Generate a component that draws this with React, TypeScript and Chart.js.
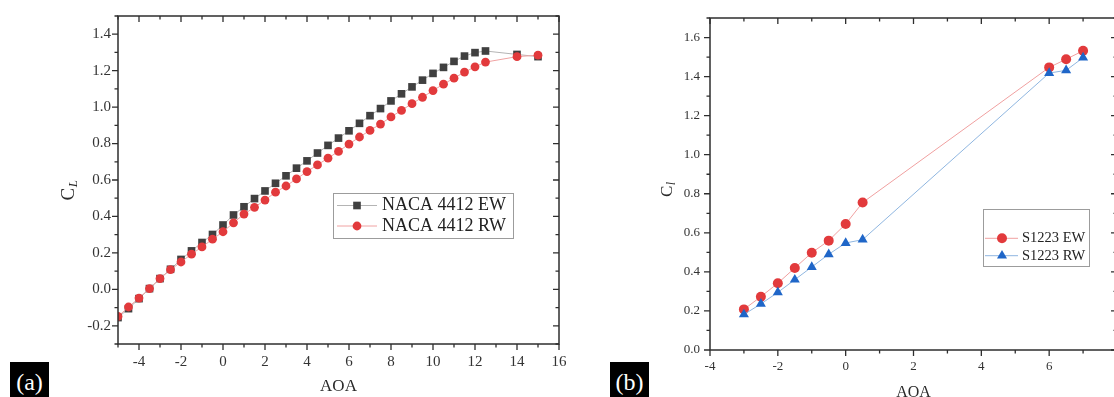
import React, { useEffect, useRef } from 'react';
import { Chart, registerables } from 'chart.js';

Chart.register(...registerables);

// ---------- data (a) NACA 4412 ----------
const NACA_AOA = [
  -5, -4.5, -4, -3.5, -3, -2.5, -2, -1.5, -1, -0.5,
  0, 0.5, 1, 1.5, 2, 2.5, 3, 3.5, 4, 4.5,
  5, 5.5, 6, 6.5, 7, 7.5, 8, 8.5, 9, 9.5,
  10, 10.5, 11, 11.5, 12, 12.5, 14, 15,
];
const NACA_EW = [
  -0.155, -0.106, -0.051, 0.004, 0.059, 0.11, 0.164, 0.211, 0.257, 0.301,
  0.353, 0.408, 0.453, 0.498, 0.54, 0.582, 0.623, 0.665, 0.705, 0.748,
  0.79, 0.83, 0.87, 0.911, 0.953, 0.992, 1.034, 1.073, 1.111, 1.148,
  1.185, 1.218, 1.251, 1.28, 1.299, 1.308, 1.289, 1.277,
];
const NACA_RW = [
  -0.149, -0.097, -0.048, 0.004, 0.059, 0.108, 0.15, 0.193, 0.233, 0.275,
  0.316, 0.365, 0.413, 0.45, 0.49, 0.533, 0.567, 0.606, 0.646, 0.683,
  0.72, 0.757, 0.797, 0.836, 0.872, 0.907, 0.946, 0.982, 1.019, 1.054,
  1.091, 1.126, 1.159, 1.192, 1.221, 1.247, 1.277, 1.285,
];
const NACA_X_TICKS = [-4, -2, 0, 2, 4, 6, 8, 10, 12, 14, 16];
const NACA_Y_TICKS = [-0.2, 0, 0.2, 0.4, 0.6, 0.8, 1.0, 1.2, 1.4];
const NACA_LABELS = ['NACA 4412 EW', 'NACA 4412 RW'];

// ---------- data (b) S1223 ----------
const S1223_AOA = [-3, -2.5, -2, -1.5, -1, -0.5, 0, 0.5, 6, 6.5, 7];
const S1223_EW = [0.208, 0.273, 0.342, 0.42, 0.498, 0.56, 0.645, 0.755, 1.447, 1.489, 1.532];
const S1223_RW = [0.182, 0.236, 0.295, 0.36, 0.425, 0.49, 0.548, 0.565, 1.418, 1.432, 1.497];
const S1223_X_TICKS = [-4, -2, 0, 2, 4, 6, 8];
const S1223_Y_TICKS = [0, 0.2, 0.4, 0.6, 0.8, 1.0, 1.2, 1.4, 1.6];
const S1223_LABELS = ['S1223 EW', 'S1223 RW'];

const SERIF = '"Liberation Serif", "Times New Roman", Times, serif';

function drawMarker(ctx: CanvasRenderingContext2D, style: string, x: number, y: number, r: number, color: string) {
  ctx.fillStyle = color;
  ctx.beginPath();
  if (style === 'rect') {
    const s = Math.SQRT1_2 * r;
    ctx.rect(x - s, y - s, 2 * s, 2 * s);
  } else if (style === 'triangle') {
    let rad = 0;
    ctx.moveTo(x + Math.sin(rad) * r, y - Math.cos(rad) * r);
    rad += (2 * Math.PI) / 3;
    ctx.lineTo(x + Math.sin(rad) * r, y - Math.cos(rad) * r);
    rad += (2 * Math.PI) / 3;
    ctx.lineTo(x + Math.sin(rad) * r, y - Math.cos(rad) * r);
    ctx.closePath();
  } else {
    ctx.arc(x, y, r, 0, Math.PI * 2);
  }
  ctx.fill();
}

function framePlugin(cfg: any) {
  return {
    id: 'frameTicks',
    afterDatasetsDraw(chart: any) {
      const { ctx, chartArea: a, scales } = chart;
      const xs = scales.x;
      const ys = scales.y;
      ctx.save();
      ctx.strokeStyle = '#2e2e2e';
      ctx.lineWidth = 1.5;
      ctx.strokeRect(a.left, a.top, a.right - a.left, a.bottom - a.top);
      ctx.lineWidth = 1.3;
      ctx.beginPath();
      const seg = (x1: number, y1: number, x2: number, y2: number) => {
        ctx.moveTo(x1, y1);
        ctx.lineTo(x2, y2);
      };
      const MAJ = 6;
      const MIN = 3.5;
      const xMajor = xs.ticks.map((t: any) => t.value);
      const yMajor = ys.ticks.map((t: any) => t.value);
      const isMajor = (arr: number[], v: number) => arr.some((m) => Math.abs(m - v) < 1e-6);
      for (let v = xs.min; v <= xs.max + 1e-9; v += cfg.xMinorStep) {
        const px = xs.getPixelForValue(v);
        const len = isMajor(xMajor, v) ? MAJ : MIN;
        seg(px, a.bottom, px, a.bottom + len);
        seg(px, a.top, px, a.top + len);
      }
      for (let v = ys.min; v <= ys.max + 1e-9; v += cfg.yMinorStep) {
        const py = ys.getPixelForValue(v);
        const len = isMajor(yMajor, v) ? MAJ : MIN;
        seg(a.left, py, a.left - len, py);
        seg(a.right, py, a.right - len, py);
      }
      ctx.stroke();

      // y title with subscript
      const t = cfg.yTitle;
      ctx.save();
      ctx.translate(t.x, t.y);
      ctx.rotate(-Math.PI / 2);
      ctx.fillStyle = '#2a2a2a';
      ctx.textAlign = 'left';
      ctx.textBaseline = 'alphabetic';
      ctx.font = `${t.mainSize}px ${SERIF}`;
      ctx.fillText(t.main, 0, 0);
      const w = ctx.measureText(t.main).width;
      ctx.font = `italic ${t.subSize}px ${SERIF}`;
      ctx.fillText(t.sub, w + 0.5, t.subShift);
      ctx.restore();

      // legend
      const L = cfg.legend;
      ctx.fillStyle = '#ffffff';
      ctx.fillRect(L.box[0], L.box[1], L.box[2] - L.box[0], L.box[3] - L.box[1]);
      ctx.strokeStyle = '#9c9c9c';
      ctx.lineWidth = 1;
      ctx.strokeRect(L.box[0] + 0.5, L.box[1] + 0.5, L.box[2] - L.box[0], L.box[3] - L.box[1]);
      chart.data.datasets.forEach((ds: any, i: number) => {
        const ry = L.rows[i];
        ctx.strokeStyle = ds.borderColor;
        ctx.lineWidth = 1;
        ctx.beginPath();
        ctx.moveTo(L.lineX[0], ry);
        ctx.lineTo(L.lineX[1], ry);
        ctx.stroke();
        drawMarker(ctx, ds.pointStyle, L.markerX, ry, ds.pointRadius, ds.pointBackgroundColor);
        ctx.fillStyle = '#222';
        ctx.font = `${L.fontSize}px ${SERIF}`;
        ctx.textAlign = 'left';
        ctx.textBaseline = 'middle';
        ctx.fillText(ds.label, L.textX, ry);
      });
      ctx.restore();
    },
  };
}

function makeConfig(p: any) {
  return {
    type: 'line',
    data: {
      datasets: p.datasets,
    },
    options: {
      animation: false,
      responsive: false,
      events: [],
      layout: { padding: p.padding },
      plugins: { legend: { display: false }, tooltip: { enabled: false } },
      scales: {
        x: {
          type: 'linear',
          min: p.xMin,
          max: p.xMax,
          grid: { display: false, drawTicks: false, tickLength: 0 },
          border: { display: false },
          afterBuildTicks: (s: any) => {
            s.ticks = p.xTicks.map((v: number) => ({ value: v }));
          },
          afterFit: (s: any) => {
            s.height = p.xAxisHeight;
            s.paddingLeft = 0;
            s.paddingRight = 0;
          },
          ticks: {
            autoSkip: false,
            maxRotation: 0,
            padding: p.xTickPad,
            color: '#333',
            font: { family: SERIF, size: p.tickSize },
            callback: (v: number) => String(v),
          },
          title: {
            display: true,
            text: 'AOA',
            color: '#2a2a2a',
            font: { family: SERIF, size: p.xTitleSize },
            padding: { top: 0, bottom: p.xTitlePad },
          },
        },
        y: {
          type: 'linear',
          min: p.yMin,
          max: p.yMax,
          grid: { display: false, drawTicks: false, tickLength: 0 },
          border: { display: false },
          afterBuildTicks: (s: any) => {
            s.ticks = p.yTicks.map((v: number) => ({ value: v }));
          },
          afterFit: (s: any) => {
            s.width = p.yAxisWidth;
            s.paddingTop = 0;
            s.paddingBottom = 0;
          },
          ticks: {
            autoSkip: false,
            padding: p.yTickPad,
            color: '#333',
            font: { family: SERIF, size: p.tickSize },
            callback: (v: number) => Number(v).toFixed(1),
          },
        },
      },
    },
    plugins: [framePlugin(p.frame)],
  };
}

const pts = (xs: number[], ys: number[]) => xs.map((x, i) => ({ x, y: ys[i] }));

export default function App() {
  const leftRef = useRef<HTMLCanvasElement>(null);
  const rightRef = useRef<HTMLCanvasElement>(null);

  useEffect(() => {
    const left = new Chart(
      leftRef.current as HTMLCanvasElement,
      makeConfig({
        datasets: [
          {
            label: NACA_LABELS[0],
            data: pts(NACA_AOA, NACA_EW),
            borderColor: '#b4b4b4',
            borderWidth: 1,
            pointStyle: 'rect',
            pointRadius: 5.4,
            pointBackgroundColor: '#404040',
            pointBorderColor: '#404040',
            pointBorderWidth: 0,
            order: 1,
          },
          {
            label: NACA_LABELS[1],
            data: pts(NACA_AOA, NACA_RW),
            borderColor: '#f0a2a2',
            borderWidth: 1,
            pointStyle: 'circle',
            pointRadius: 4.4,
            pointBackgroundColor: '#e23a3c',
            pointBorderColor: '#e23a3c',
            pointBorderWidth: 0,
            order: 0,
          },
        ],
        padding: { left: 0, top: 16, right: 31, bottom: 0 },
        xMin: -5,
        xMax: 16,
        yMin: -0.3,
        yMax: 1.5,
        xTicks: NACA_X_TICKS,
        yTicks: NACA_Y_TICKS,
        xAxisHeight: 53,
        yAxisWidth: 118,
        xTickPad: 9,
        yTickPad: 7,
        tickSize: 15,
        xTitleSize: 17,
        xTitlePad: 0,
        frame: {
          xMinorStep: 1,
          yMinorStep: 0.1,
          yTitle: { x: 74, y: 200.5, main: 'C', sub: 'L', mainSize: 19, subSize: 13, subShift: 3 },
          legend: {
            box: [333, 193, 513, 238],
            rows: [205.5, 226],
            lineX: [337, 377],
            markerX: 357,
            textX: 382,
            fontSize: 18,
          },
        },
      }) as any
    );

    const right = new Chart(
      rightRef.current as HTMLCanvasElement,
      makeConfig({
        datasets: [
          {
            label: S1223_LABELS[0],
            data: pts(S1223_AOA, S1223_EW),
            borderColor: '#f0a0a0',
            borderWidth: 1,
            pointStyle: 'circle',
            pointRadius: 5,
            pointBackgroundColor: '#e23a3c',
            pointBorderColor: '#e23a3c',
            pointBorderWidth: 0,
            order: 1,
          },
          {
            label: S1223_LABELS[1],
            data: pts(S1223_AOA, S1223_RW),
            borderColor: '#8fb6e0',
            borderWidth: 1,
            pointStyle: 'triangle',
            pointRadius: 5.8,
            pointBackgroundColor: '#1f66c8',
            pointBorderColor: '#1f66c8',
            pointBorderWidth: 0,
            order: 0,
          },
        ],
        padding: { left: 0, top: 18, right: 43, bottom: 0 },
        xMin: -4,
        xMax: 8,
        yMin: 0,
        yMax: 1.7,
        xTicks: S1223_X_TICKS,
        yTicks: S1223_Y_TICKS,
        xAxisHeight: 55,
        yAxisWidth: 110,
        xTickPad: 9,
        yTickPad: 10,
        tickSize: 13,
        xTitleSize: 16,
        xTitlePad: 3,
        frame: {
          xMinorStep: 1,
          yMinorStep: 0.1,
          yTitle: { x: 72, y: 197, main: 'C', sub: 'l', mainSize: 17, subSize: 12, subShift: 3 },
          legend: {
            box: [383, 209, 489, 266],
            rows: [238.3, 255.7],
            lineX: [385, 418],
            markerX: 402,
            textX: 422,
            fontSize: 14.5,
          },
        },
      }) as any
    );

    return () => {
      left.destroy();
      right.destroy();
    };
  }, []);

  const tag: React.CSSProperties = {
    position: 'absolute',
    top: 362,
    width: 39,
    height: 35,
    background: '#000',
    color: '#fff',
    fontFamily: SERIF,
    fontSize: 24,
    lineHeight: '35px',
    paddingTop: 3,
    boxSizing: 'border-box',
    textAlign: 'center',
  };

  return (
    <div
      style={{
        position: 'fixed',
        left: 0,
        top: 0,
        width: 1114,
        height: 397,
        overflow: 'hidden',
        background: '#ffffff',
      }}
    >
      <div style={{ position: 'absolute', left: 0, top: 0, width: 590, height: 397 }}>
        <canvas ref={leftRef} width={590} height={397} style={{ display: 'block' }} />
      </div>
      <div style={{ position: 'absolute', left: 600, top: 0, width: 560, height: 405 }}>
        <canvas ref={rightRef} width={560} height={405} style={{ display: 'block' }} />
      </div>
      <div style={{ ...tag, left: 10 }}>(a)</div>
      <div style={{ ...tag, left: 610 }}>(b)</div>
    </div>
  );
}
